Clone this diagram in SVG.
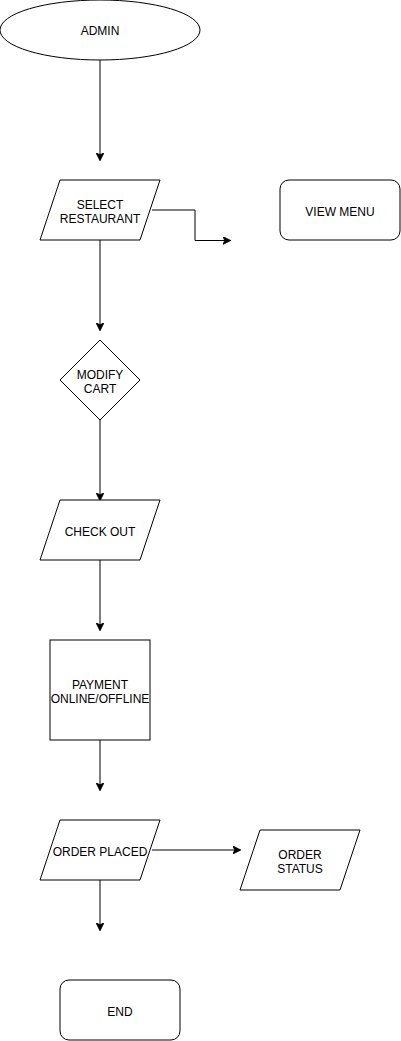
<svg xmlns="http://www.w3.org/2000/svg" width="401" height="1041" viewBox="0 0 401 1041">
<style>
.s{fill:#fff;stroke:#000;stroke-width:1}
.t{font-family:"Liberation Sans",Arial,sans-serif;font-size:12px;fill:#000;text-anchor:middle}
.c{fill:none;stroke:#000;stroke-width:1}
</style>
<defs>
<marker id="a" viewBox="0 0 10 10" refX="9" refY="5" markerWidth="8" markerHeight="8" markerUnits="userSpaceOnUse" orient="auto">
<path d="M0,0 L10,5 L0,10 L2.5,5 Z" fill="#000" stroke="#000" stroke-width="1"/>
</marker>
</defs>
<rect width="401" height="1041" fill="#fff"/>
<g id="connectors">
<path class="c" d="M100,60 V160" marker-end="url(#a)"/>
<path class="c" d="M152,210 H195 V240.5 H230" marker-end="url(#a)"/>
<path class="c" d="M100,240 V330" marker-end="url(#a)"/>
<path class="c" d="M100,420 V500" marker-end="url(#a)"/>
<path class="c" d="M100,560 V630" marker-end="url(#a)"/>
<path class="c" d="M100,740 V790" marker-end="url(#a)"/>
<path class="c" d="M152,850 H240" marker-end="url(#a)"/>
<path class="c" d="M100,880 V930" marker-end="url(#a)"/>
</g>
<g id="admin">
<ellipse class="s" cx="100" cy="30" rx="100" ry="30"/>
<text class="t" x="100" y="35">ADMIN</text>
</g>
<g id="select-restaurant">
<path class="s" d="M60,180 H160 L140,240 H40 Z"/>
<text class="t" x="100" y="209">SELECT</text>
<text class="t" x="100" y="223">RESTAURANT</text>
</g>
<g id="view-menu">
<rect class="s" x="280" y="180" width="120" height="60" rx="9"/>
<text class="t" x="340" y="216">VIEW MENU</text>
</g>
<g id="modify-cart">
<path class="s" d="M100,340 L140,380 L100,420 L60,380 Z"/>
<text class="t" x="100" y="379">MODIFY</text>
<text class="t" x="100" y="393">CART</text>
</g>
<g id="check-out">
<path class="s" d="M60,500 H160 L140,560 H40 Z"/>
<text class="t" x="100" y="536">CHECK OUT</text>
</g>
<g id="payment">
<rect class="s" x="50" y="640" width="100" height="100"/>
<text class="t" x="100" y="689">PAYMENT</text>
<text class="t" x="100" y="703">ONLINE/OFFLINE</text>
</g>
<g id="order-placed">
<path class="s" d="M60,820 H160 L140,880 H40 Z"/>
<text class="t" x="100" y="856">ORDER PLACED</text>
</g>
<g id="order-status">
<path class="s" d="M260,830 H360 L340,890 H240 Z"/>
<text class="t" x="300" y="859">ORDER</text>
<text class="t" x="300" y="873">STATUS</text>
</g>
<g id="end">
<rect class="s" x="60" y="980" width="120" height="60" rx="9"/>
<text class="t" x="120" y="1016">END</text>
</g>
</svg>
